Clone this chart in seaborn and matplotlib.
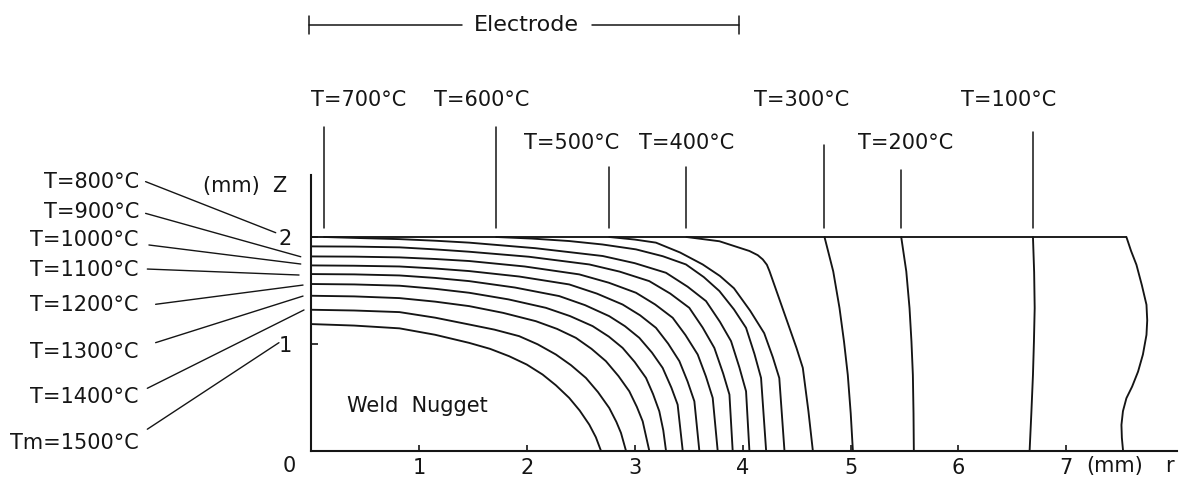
import matplotlib
matplotlib.use("Agg")
import matplotlib.pyplot as plt
import pandas as pd
import seaborn as sns

# ---------------- data (r in mm, z in mm) ----------------
LEVELS = [1500, 1400, 1300, 1200, 1100, 1000, 900, 800, 700, 600, 500, 400, 300, 200, 100]

R_1500 = [0.00, 0.40, 0.82, 1.15, 1.466, 1.66, 1.837, 2.00, 2.146, 2.27, 2.393, 2.49, 2.579, 2.64, 2.687]
Z_1500 = [1.185, 1.171, 1.145, 1.085, 1.009, 0.953, 0.884, 0.806, 0.713, 0.612, 0.494, 0.376, 0.244, 0.126, 0.0]
R_1400 = [0.00, 0.40, 0.82, 1.15, 1.466, 1.70, 1.929, 2.10, 2.270, 2.41, 2.548, 2.66, 2.764, 2.83, 2.873, 2.919]
Z_1400 = [1.319, 1.312, 1.297, 1.245, 1.181, 1.133, 1.072, 0.996, 0.900, 0.800, 0.681, 0.548, 0.400, 0.270, 0.166, 0.0]
R_1300 = [0.00, 0.40, 0.82, 1.15, 1.466, 1.78, 2.084, 2.28, 2.455, 2.60, 2.733, 2.85, 2.950, 3.02, 3.074, 3.135]
Z_1300 = [1.450, 1.444, 1.428, 1.395, 1.353, 1.290, 1.212, 1.140, 1.056, 0.953, 0.838, 0.698, 0.556, 0.410, 0.275, 0.0]
R_1200 = [0.00, 0.40, 0.82, 1.15, 1.466, 1.83, 2.177, 2.40, 2.610, 2.76, 2.888, 3.00, 3.105, 3.17, 3.228, 3.265, 3.290]
Z_1200 = [1.560, 1.556, 1.544, 1.515, 1.478, 1.416, 1.337, 1.260, 1.166, 1.068, 0.962, 0.830, 0.681, 0.530, 0.369, 0.190, 0.0]
R_1100 = [0.00, 0.40, 0.82, 1.15, 1.466, 1.89, 2.300, 2.54, 2.764, 2.91, 3.043, 3.16, 3.259, 3.34, 3.398, 3.445]
Z_1100 = [1.653, 1.650, 1.640, 1.617, 1.587, 1.527, 1.447, 1.362, 1.259, 1.165, 1.056, 0.918, 0.775, 0.590, 0.431, 0.0]
R_1000 = [0.00, 0.40, 0.82, 1.15, 1.466, 1.93, 2.393, 2.65, 2.888, 3.05, 3.197, 3.31, 3.414, 3.49, 3.553, 3.599]
Z_1000 = [1.734, 1.731, 1.724, 1.705, 1.681, 1.630, 1.556, 1.470, 1.368, 1.267, 1.150, 1.002, 0.838, 0.648, 0.462, 0.0]
R_900 = [0.00, 0.40, 0.82, 1.15, 1.466, 1.98, 2.486, 2.76, 3.012, 3.19, 3.352, 3.47, 3.584, 3.66, 3.723, 3.769]
Z_900 = [1.818, 1.816, 1.809, 1.794, 1.775, 1.724, 1.650, 1.572, 1.478, 1.368, 1.244, 1.083, 0.900, 0.695, 0.494, 0.0]
R_800 = [0.00, 0.40, 0.82, 1.15, 1.466, 2.02, 2.579, 2.86, 3.135, 3.33, 3.506, 3.63, 3.738, 3.82, 3.878, 3.908]
Z_800 = [1.912, 1.910, 1.903, 1.884, 1.862, 1.815, 1.743, 1.676, 1.587, 1.470, 1.337, 1.152, 0.962, 0.722, 0.525, 0.0]
R_700 = [0.12, 0.45, 0.82, 1.15, 1.466, 2.08, 2.703, 3.00, 3.290, 3.49, 3.661, 3.79, 3.893, 3.97, 4.032, 4.063]
Z_700 = [2.000, 1.990, 1.980, 1.965, 1.947, 1.895, 1.822, 1.755, 1.665, 1.535, 1.400, 1.206, 1.025, 0.780, 0.556, 0.0]
R_600 = [1.716, 2.05, 2.393, 2.70, 3.012, 3.26, 3.475, 3.64, 3.785, 3.92, 4.032, 4.11, 4.171, 4.218]
Z_600 = [2.000, 1.985, 1.962, 1.930, 1.884, 1.820, 1.743, 1.625, 1.494, 1.322, 1.150, 0.905, 0.681, 0.0]
R_500 = [2.764, 3.00, 3.197, 3.42, 3.630, 3.79, 3.920, 4.07, 4.200, 4.28, 4.340, 4.388]
Z_500 = [2.000, 1.976, 1.947, 1.855, 1.743, 1.635, 1.520, 1.310, 1.100, 0.875, 0.680, 0.0]
R_400 = [3.479, 3.785, 4.063, 4.14, 4.187, 4.225, 4.249, 4.34, 4.434, 4.50, 4.558, 4.61, 4.651]
Z_400 = [2.000, 1.960, 1.869, 1.830, 1.790, 1.740, 1.681, 1.420, 1.150, 0.960, 0.775, 0.370, 0.0]
R_300 = [4.759, 4.840, 4.898, 4.940, 4.975, 5.002, 5.022]
Z_300 = [2.000, 1.678, 1.336, 1.020, 0.708, 0.350, 0.0]
R_200 = [5.470, 5.517, 5.547, 5.565, 5.578, 5.584, 5.587]
Z_200 = [2.000, 1.678, 1.335, 1.020, 0.709, 0.350, 0.0]
R_100 = [6.691, 6.702, 6.707, 6.700, 6.691, 6.676, 6.660]
Z_100 = [2.000, 1.670, 1.335, 1.020, 0.709, 0.350, 0.0]

# specimen outline: top surface and free right edge
R_TOP = [0.0, 7.557]
Z_TOP = [2.0, 2.0]
R_EDGE = [7.557, 7.60, 7.650, 7.70, 7.743, 7.750, 7.743, 7.71, 7.665, 7.61, 7.557, 7.525, 7.511, 7.515, 7.526]
Z_EDGE = [2.000, 1.87, 1.740, 1.55, 1.366, 1.22, 1.084, 0.90, 0.740, 0.60, 0.491, 0.37, 0.241, 0.12, 0.0]

X_TICKS = [0, 1, 2, 3, 4, 5, 6, 7]
X_TICK_LABELS = ["", "1", "2", "3", "4", "5", "6", "7"]
Y_TICKS = [1, 2]
Y_TICK_LABELS = ["1", "2"]

R_LISTS = [R_1500, R_1400, R_1300, R_1200, R_1100, R_1000, R_900, R_800,
           R_700, R_600, R_500, R_400, R_300, R_200, R_100]
Z_LISTS = [Z_1500, Z_1400, Z_1300, Z_1200, Z_1100, Z_1000, Z_900, Z_800,
           Z_700, Z_600, Z_500, Z_400, Z_300, Z_200, Z_100]

rows = []
for T, rr, zz in zip(LEVELS, R_LISTS, Z_LISTS):
    for r, z in zip(rr, zz):
        rows.append({"T": T, "r": r, "z": z})
iso = pd.DataFrame(rows)

outline = pd.DataFrame(
    [{"part": "top", "r": r, "z": z} for r, z in zip(R_TOP, Z_TOP)]
    + [{"part": "edge", "r": r, "z": z} for r, z in zip(R_EDGE, Z_EDGE)]
)

# ---------------- figure ----------------
sns.set_style("ticks")
plt.rcParams["font.family"] = ["DejaVu Sans"]

W_PX, H_PX = 1191, 486
fig = plt.figure(figsize=(W_PX / 100, H_PX / 100), dpi=100)
x0_px, y0_px, x1_px, y1_px = 311, 450.7, 1177, 175
ax = fig.add_axes([x0_px / W_PX, (H_PX - y0_px) / H_PX,
                   (x1_px - x0_px) / W_PX, (y0_px - y1_px) / H_PX])
ax.set_xlim(0, (x1_px - x0_px) / 107.9)
ax.set_ylim(0, (y0_px - y1_px) / 106.86)

ink = "#151515"
sns.lineplot(data=iso, x="r", y="z", units="T", estimator=None, sort=False,
             color=ink, linewidth=1.35, ax=ax, legend=False)
sns.lineplot(data=outline, x="r", y="z", units="part", estimator=None, sort=False,
             color=ink, linewidth=1.35, ax=ax, legend=False)

for s in ["top", "right"]:
    ax.spines[s].set_visible(False)
for s in ["left", "bottom"]:
    ax.spines[s].set_linewidth(1.5)
    ax.spines[s].set_color(ink)

ax.set_xticks(X_TICKS)
ax.set_xticklabels(X_TICK_LABELS)
ax.set_yticks(Y_TICKS)
ax.set_yticklabels(Y_TICK_LABELS)
ax.tick_params(axis="x", direction="in", length=4, width=1.2, pad=5,
               labelsize=15, colors=ink)
ax.tick_params(axis="y", direction="in", length=5, width=1.2, pad=14,
               labelsize=15, colors=ink)
ax.set_xlabel("")
ax.set_ylabel("")

fs = 15
txt = dict(color=ink, fontsize=fs, clip_on=False)
ax.text(-0.204, -0.143, "0", ha="center", va="center", **txt)
ax.text(7.445, -0.143, "(mm)", ha="center", va="center", **txt)
ax.text(7.955, -0.143, "r", ha="center", va="center", **txt)
ax.text(-0.22, 2.477, "(mm)  Z", ha="right", va="center", **txt)
ax.text(0.334, 0.419, "Weld  Nugget", ha="left", va="center", **txt)

# Electrode bar
ez = 3.984
ax.plot([-0.02, 1.40], [ez, ez], color=ink, lw=1.1, clip_on=False)
ax.plot([2.60, 3.968], [ez, ez], color=ink, lw=1.1, clip_on=False)
ax.plot([-0.02, -0.02], [3.90, 4.07], color=ink, lw=1.1, clip_on=False)
ax.plot([3.968, 3.968], [3.90, 4.07], color=ink, lw=1.1, clip_on=False)
ax.text(2.0, ez, "Electrode", ha="center", va="center", color=ink,
        fontsize=16, clip_on=False)

# top labels with vertical leaders: (label, text x, text z, leader x, leader z top)
top_labels = [
    ("T=700°C", 0.44, 3.282, 0.12, 3.028),
    ("T=600°C", 1.585, 3.282, 1.716, 3.028),
    ("T=500°C", 2.42, 2.880, 2.764, 2.655),
    ("T=400°C", 3.477, 2.880, 3.479, 2.655),
    ("T=300°C", 4.55, 3.282, 4.759, 2.860),
    ("T=200°C", 5.507, 2.880, 5.470, 2.627),
    ("T=100°C", 6.47, 3.282, 6.691, 2.982),
]
for lab, tx, tz, lx, lz in top_labels:
    ax.text(tx, tz, lab, ha="center", va="center", **txt)
    ax.plot([lx, lx], [2.084, lz], color=ink, lw=1.1, clip_on=False)

# left labels with slanted leaders
left_labels = [
    ("T=800°C", 2.517, (-1.533, 2.518), (-0.327, 2.040)),
    ("T=900°C", 2.237, (-1.533, 2.221), (-0.095, 1.815)),
    ("T=1000°C", 1.972, (-1.502, 1.925), (-0.095, 1.747)),
    ("T=1100°C", 1.691, (-1.517, 1.700), (-0.111, 1.644)),
    ("T=1200°C", 1.363, (-1.440, 1.370), (-0.074, 1.550)),
    ("T=1300°C", 0.926, (-1.440, 1.011), (-0.074, 1.447)),
    ("T=1400°C", 0.505, (-1.517, 0.584), (-0.065, 1.317)),
    ("Tm=1500°C", 0.069, (-1.517, 0.201), (-0.297, 1.011)),
]
for lab, tz, p0, p1 in left_labels:
    ax.text(-1.595, tz, lab, ha="right", va="center", **txt)
    ax.plot([p0[0], p1[0]], [p0[1], p1[1]], color=ink, lw=1.0, clip_on=False)

fig.savefig("out.png", dpi=100, facecolor="white")
